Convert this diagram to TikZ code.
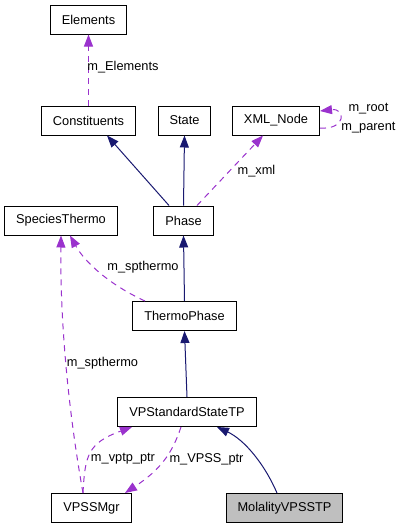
\documentclass[tikz,border=0pt]{standalone}
\usepackage{fontspec}
\setmainfont{Liberation Sans}
\usetikzlibrary{arrows.meta}
\definecolor{navy}{HTML}{191970}
\definecolor{orchid}{HTML}{9A32CD}
\definecolor{leaf}{HTML}{BFBFBF}

\begin{document}
\begin{tikzpicture}[x=1pt, y=-1pt,
	cls/.style={draw, line width=1pt, inner xsep=11.5pt, minimum height=29pt, font=\fontsize{12.8}{15}\selectfont},
	inh/.style={navy, line width=1pt, -{Triangle[length=12pt,width=9pt]}},
	memb/.style={orchid, line width=1pt, dash pattern=on 6pt off 5pt, -{Triangle[length=12pt,width=9pt]}},
	lbl/.style={black, font=\fontsize{12.8}{19}\selectfont, inner sep=0pt, align=center}]
	\useasboundingbox (0,0) rectangle (403,528);

	\node[cls] (elements) at (88.5,19.5) {Elements};
	\node[cls] (constit) at (88.5,120.5) {Constituents};
	\node[cls] (state) at (184.5,120.5) {State};
	\node[cls] (xml) at (276,120.5) {XML\_Node};
	\node[cls] (spthermo) at (61,220.5) {SpeciesThermo};
	\node[cls] (phase) at (183.5,220.5) {Phase};
	\node[cls] (thermo) at (184.5,316) {ThermoPhase};
	\node[cls] (vpstd) at (187,412) {VPStandardStateTP};
	\node[cls] (vpssmgr) at (91.5,508) {VPSSMgr};
	\node[cls, fill=leaf] (molal) at (284.5,508) {MolalityVPSSTP};

	\draw[memb] (constit.north) -- (elements.south) node[lbl] at (123,67) {m\_Elements};
	\draw[inh] ([xshift=-14.5pt]phase.north) -- ([xshift=18.5pt]constit.south);
	\draw[inh] (phase.north) -- (state.south);
	\draw[memb] ([xshift=13.5pt]phase.north) -- ([xshift=-13pt]xml.south) node[lbl] at (256.5,171) {m\_xml};
	\draw[memb] ([yshift=-7.5pt]xml.east) .. controls +(26,2) and +(26,-3) .. ([yshift=9.5pt]xml.east) node[lbl] at (368.5,118.5) {m\_root\\m\_parent};
	\draw[memb] ([xshift=-39.5pt]thermo.north) .. controls +(-35,-16) and +(15,27) .. ([xshift=9pt]spthermo.south) node[lbl] at (143,267) {m\_spthermo};
	\draw[memb] ([xshift=-8.5pt]vpssmgr.north) .. controls +(-13,-73) and +(-1,95) .. (spthermo.south) node[lbl] at (102.5,363) {m\_spthermo};
	\draw[inh] (thermo.north) -- (phase.south);
	\draw[inh] (vpstd.north) -- (thermo.south);
	\draw[inh] ([xshift=-7.5pt]molal.north) .. controls +(-12,-28) and +(28,13) .. ([xshift=30pt]vpstd.south);
	\draw[memb] ([xshift=-8.5pt]vpssmgr.north) .. controls +(2,-38) and +(-44,16) .. ([xshift=-55pt]vpstd.south) node[lbl] at (123,459) {m\_vptp\_ptr};
	\draw[memb] ([xshift=-6pt]vpstd.south) .. controls +(-9,27) and +(35,-23) .. ([xshift=33.5pt]vpssmgr.north) node[lbl] at (206.5,459) {m\_VPSS\_ptr};
\end{tikzpicture}
\end{document}
